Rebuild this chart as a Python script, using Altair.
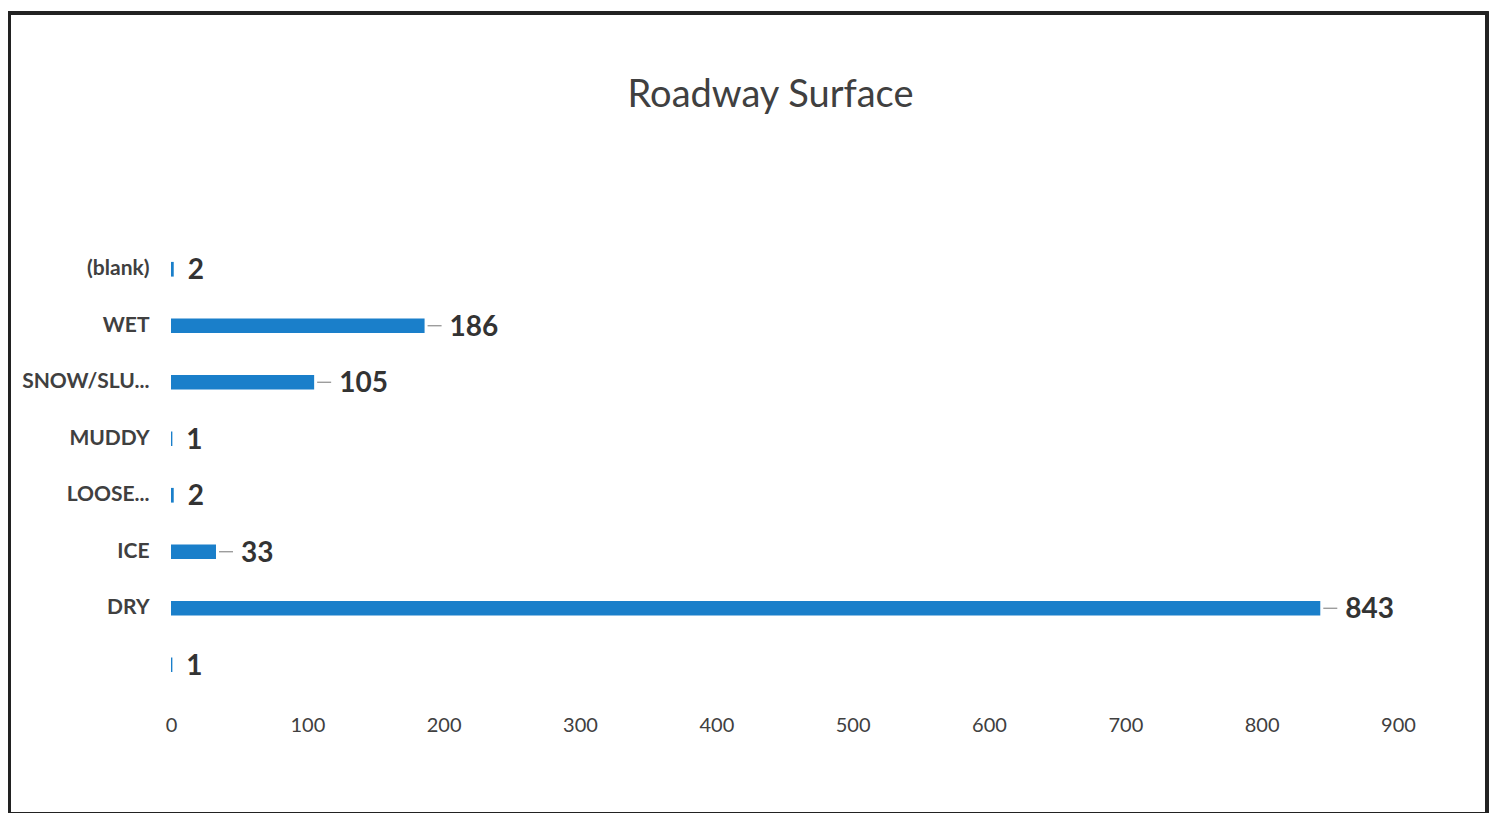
import altair as alt
import pandas as pd

categories = ["(blank)", "WET", "SNOW/SLU...", "MUDDY", "LOOSE...", "ICE", "DRY", " "]
values = [2, 186, 105, 1, 2, 33, 843, 1]
x_ticks = [0, 100, 200, 300, 400, 500, 600, 700, 800, 900]

df = pd.DataFrame({"cat": categories, "val": values})
df["leader"] = df["val"] >= 20

FONT = "Lato"
BLUE = "#1a7fca"

y_enc = alt.Y("cat:N", sort=categories, title=None,
              scale=alt.Scale(paddingInner=0.74, paddingOuter=0.37),
              axis=alt.Axis(labelFont=FONT, labelFontSize=21, labelFontWeight="bold",
                            labelColor="#404040", domain=False, ticks=False, labelPadding=22))
x_enc = alt.X("val:Q", title=None,
              scale=alt.Scale(domain=[0, 900], nice=False),
              axis=alt.Axis(values=x_ticks, labelFont=FONT, labelFontSize=20,
                            labelColor="#404040", domain=False, ticks=False, grid=False,
                            labelPadding=22, labelFlush=False))

bars = alt.Chart(df).mark_bar(color=BLUE).encode(x=x_enc, y=y_enc)

leaders = alt.Chart(df).transform_filter("datum.leader").mark_rule(
    color="#8c8c8c", strokeWidth=1.2, xOffset=3, x2Offset=17
).encode(x="val:Q", x2="val:Q", y=alt.Y("cat:N", sort=categories, bandPosition=0.5))

labels_big = alt.Chart(df).transform_filter("datum.leader").mark_text(
    align="left", baseline="middle", dx=25, dy=2, font=FONT, fontSize=28,
    fontWeight="bold", color="#333333"
).encode(x="val:Q", y=alt.Y("cat:N", sort=categories), text="val:Q")

labels_small = alt.Chart(df).transform_filter("!datum.leader").mark_text(
    align="left", baseline="middle", dx=14, dy=2, font=FONT, fontSize=28,
    fontWeight="bold", color="#333333"
).encode(x="val:Q", y=alt.Y("cat:N", sort=categories), text="val:Q")

frame = alt.Chart(df).mark_rect(
    fill=None, stroke="#222222", strokeWidth=3
).encode(x=alt.value(-162), x2=alt.value(1316), y=alt.value(-228), y2=alt.value(573))

chart = alt.layer(frame, bars, leaders, labels_big, labels_small).properties(
    width=1227, height=452,
    title=alt.TitleParams("Roadway Surface", font=FONT, fontSize=38, fontWeight="normal",
                          color="#404040", anchor="middle", offset=-103, dx=-14),
    autosize=alt.AutoSizeParams(type="none"),
    padding={"left": 163, "top": 233, "right": 91, "bottom": 120},
).configure_view(stroke=None)

chart.save("out.html", embed_options={"renderer": "svg", "actions": False})
